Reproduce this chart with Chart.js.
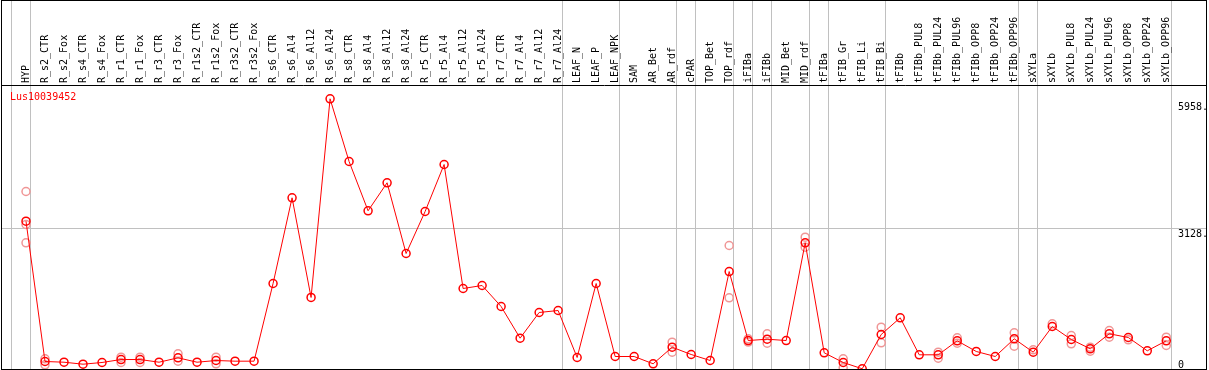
<!DOCTYPE html>
<html>
<head>
<meta charset="utf-8">
<script src="https://cdn.jsdelivr.net/npm/chart.js@4/dist/chart.umd.min.js"></script>
<style>
  html, body { margin: 0; padding: 0; background: #fff; }
  canvas { display: block; }
</style>
</head>
<body>
<canvas id="myChart" width="1209" height="370"></canvas>
<script>
'use strict';

var geneName = 'Lus10039452';

var categories = [
    'HYP', 'R_s2_CTR', 'R_s2_Fox', 'R_s4_CTR', 'R_s4_Fox', 'R_r1_CTR', 'R_r1_Fox',
    'R_r3_CTR', 'R_r3_Fox', 'R_r1s2_CTR', 'R_r1s2_Fox', 'R_r3s2_CTR', 'R_r3s2_Fox',
    'R_s6_CTR', 'R_s6_Al4', 'R_s6_Al12', 'R_s6_Al24', 'R_s8_CTR', 'R_s8_Al4',
    'R_s8_Al12', 'R_s8_Al24', 'R_r5_CTR', 'R_r5_Al4', 'R_r5_Al12', 'R_r5_Al24',
    'R_r7_CTR', 'R_r7_Al4', 'R_r7_Al12', 'R_r7_Al24', 'LEAF_N', 'LEAF_P', 'LEAF_NPK',
    'SAM', 'AR_Bet', 'AR_rdf', 'cPAR', 'TOP_Bet', 'TOP_rdf', 'iFIBa', 'iFIBb',
    'MID_Bet', 'MID_rdf', 'tFIBa', 'tFIB_Gr', 'tFIB_Li', 'tFIB_Bi', 'tFIBb',
    'tFIBb_PUL8', 'tFIBb_PUL24', 'tFIBb_PUL96', 'tFIBb_OPP8', 'tFIBb_OPP24', 'tFIBb_OPP96',
    'sXYLa', 'sXYLb', 'sXYLb_PUL8', 'sXYLb_PUL24', 'sXYLb_PUL96', 'sXYLb_OPP8',
    'sXYLb_OPP24', 'sXYLb_OPP96'
];

// mean expression per sample
var meanValues = [
    3290, 167, 151, 107, 145, 211, 211, 151, 249, 151, 189, 174, 174,
    1903, 3811, 1592, 6015, 4619, 3522, 4145, 2571, 3506, 4552, 1792, 1859,
    1391, 686, 1258, 1302, 256, 1903, 278,
    278, 116, 485, 323, 189, 2170, 634, 663, 634, 2809,
    361, 145, 5, 768, 1140, 316, 316, 628, 390, 278, 672,
    374, 946, 657, 450, 784, 701, 405, 628
];

// replicate values (light circles), one list per sample
var replicates = [
    [3951, 3217, 2809], [93, 227], [], [], [], [145, 263], [145, 263], [], [338, 174], [], [263, 116], [], [],
    [], [], [], [], [], [], [], [], [], [], [], [],
    [], [], [], [], [], [], [],
    [], [], [597, 374], [], [], [2749, 1585], [672, 600], [784, 574], [], [2934, 2711],
    [], [227, 27], [], [930, 583], [], [], [374, 240], [694, 574], [], [], [806, 508],
    [427], [1006], [746, 561], [485, 396], [857, 708], [650], [], [708, 523]
];

// index of the last sample of each group (a grey line follows it)
var groupEnds = [-1, 0, 28, 31, 34, 35, 37, 38, 39, 41, 42, 45, 52, 53, 60];

var yTickValues = [0, 3128, 5958];
var yTickLabels = ['0', '3128.', '5958.'];

var monoFont = { family: 'DejaVu Sans Mono', size: 10 };

var xTicks = [];
categories.forEach(function (c, i) { xTicks.push({ value: i }); });
groupEnds.forEach(function (g) { xTicks.push({ value: g + 0.25 }); });
xTicks.sort(function (a, b) { return a.value - b.value; });

var mainPoints = meanValues.map(function (v, i) { return { x: i, y: v }; });
var repPoints = [];
replicates.forEach(function (list, i) {
    list.forEach(function (v) { repPoints.push({ x: i, y: v }); });
});

var framePlugin = {
    id: 'frame',
    afterDraw: function (chart) {
        var ctx = chart.ctx;
        var area = chart.chartArea;
        var y = chart.scales.y;
        ctx.save();
        // gene name
        ctx.fillStyle = 'rgb(255,0,0)';
        ctx.font = '10px "DejaVu Sans Mono"';
        ctx.textBaseline = 'middle';
        ctx.textAlign = 'left';
        ctx.fillText(geneName, area.left + 8, area.top + 12);
        // value labels on the right
        ctx.fillStyle = '#000';
        ctx.textBaseline = 'top';
        yTickValues.forEach(function (v, k) {
            var py = Math.min(y.getPixelForValue(v), area.bottom - 10);
            ctx.fillText(yTickLabels[k], area.right - 28, py + 1);
        });
        // outer frame
        ctx.strokeStyle = '#000';
        ctx.lineWidth = 1;
        ctx.strokeRect(area.left - 0.5, 0.5, area.right - area.left + 1, area.bottom);
        ctx.restore();
    }
};

var config = {
    type: 'line',
    data: {
        datasets: [{
            data: mainPoints,
            borderColor: 'rgb(255,0,0)',
            borderWidth: 1,
            pointStyle: 'circle',
            pointRadius: 4,
            pointBorderWidth: 1.5,
            pointBorderColor: 'rgb(255,0,0)',
            pointBackgroundColor: 'rgba(0,0,0,0)',
            tension: 0
        }, {
            data: repPoints,
            showLine: false,
            pointStyle: 'circle',
            pointRadius: 4,
            pointBorderWidth: 1.5,
            pointBorderColor: 'rgb(240,150,150)',
            pointBackgroundColor: 'rgba(0,0,0,0)'
        }]
    },
    options: {
        responsive: false,
        animation: false,
        devicePixelRatio: 1,
        layout: { autoPadding: false, padding: { left: 2, right: 3, top: 0, bottom: 1 } },
        plugins: { legend: { display: false }, tooltip: { enabled: false } },
        scales: {
            x: {
                type: 'linear',
                position: 'top',
                min: -1.263,
                max: 62.09,
                afterBuildTicks: function (axis) { axis.ticks = xTicks.slice(); },
                afterFit: function (axis) {
                    axis.height = 85;
                    axis.paddingLeft = 0;
                    axis.paddingRight = 0;
                },
                ticks: {
                    autoSkip: false,
                    minRotation: 90,
                    maxRotation: 90,
                    padding: -83,
                    labelOffset: 12,
                    color: '#000',
                    font: monoFont,
                    callback: function (v) {
                        return Number.isInteger(v) ? categories[v] : '';
                    }
                },
                grid: {
                    drawTicks: true,
                    tickLength: 85,
                    lineWidth: 1,
                    color: function (ctx) {
                        var v = ctx.tick && ctx.tick.value;
                        return Number.isInteger(v) ? 'rgba(0,0,0,0)' : 'rgb(192,192,192)';
                    }
                },
                border: { display: true, color: '#000', width: 1 }
            },
            y: {
                type: 'linear',
                position: 'right',
                min: 0,
                max: 6322,
                afterBuildTicks: function (axis) {
                    axis.ticks = yTickValues.map(function (v) { return { value: v }; });
                },
                afterFit: function (axis) { axis.width = 0; },
                ticks: { display: false },
                grid: {
                    drawTicks: false,
                    color: function (ctx) {
                        return ctx.tick && ctx.tick.value === 3128 ? 'rgb(192,192,192)' : 'rgba(0,0,0,0)';
                    }
                },
                border: { display: false }
            }
        }
    },
    plugins: [framePlugin]
};

var ctx = document.getElementById('myChart').getContext('2d');
window.myLine = new Chart(ctx, config);
</script>
</body>
</html>
